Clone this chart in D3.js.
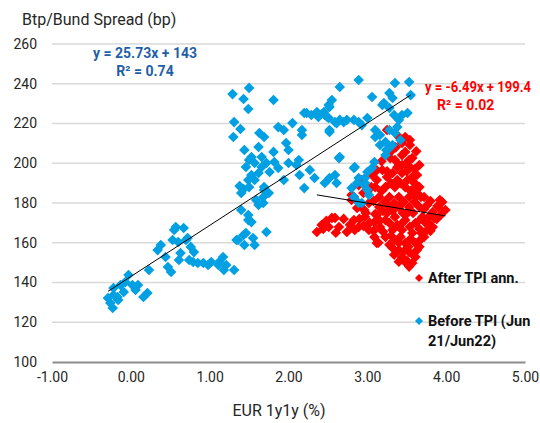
<!DOCTYPE html>
<html><head><meta charset="utf-8">
<script src="https://cdn.jsdelivr.net/npm/d3@7"></script>
<style>
html,body{margin:0;padding:0;background:#fff;}
svg{display:block;font-family:Roboto,"Noto Sans",sans-serif;}
</style></head>
<body><svg id="chart" width="540" height="423"></svg>
<script>
// ---- data ----
const xTicks = [-1, 0, 1, 2, 3, 4, 5];
const yTicks = [100, 120, 140, 160, 180, 200, 220, 240, 260];
const seriesNames = ["After TPI ann.", "Before TPI (Jun", "21/Jun22)"];
const blueX = [-0.23,-0.29,-0.22,-0.16,-0.09,-0.03,0.02,0.06,0.09,0.21,0.23,0.38,0.44,0.51,0.55,0.60,0.67,0.70,0.63,0.61,0.76,0.80,0.74,0.85,0.92,0.98,1.02,1.11,1.17,1.21,1.31,1.18,1.36,1.44,1.46,1.49,-0.22,-0.17,-0.07,0.16,0.47,0.53,0.57,0.72,0.79,1.12,1.34,1.43,1.55,1.57,1.53,1.72,1.62,1.68,1.49,-0.26,-0.13,0.34,
1.29,1.50,1.43,1.49,1.81,1.31,1.39,1.30,1.63,1.69,1.87,1.94,2.05,2.17,2.17,2.20,2.29,2.38,2.45,2.49,2.51,2.55,2.52,2.61,1.97,2.00,1.44,1.53,1.62,1.66,1.50,1.46,1.57,1.66,1.72,1.81,1.82,1.87,1.76,1.62,1.53,1.57,1.49,1.38,1.43,1.50,1.69,1.75,1.68,1.59,1.94,2.00,2.10,2.14,2.27,2.33,2.20,2.46,2.52,2.59,2.61,1.40,2.64,2.13,1.40,1.69,2.83,3.00,2.80,2.93,3.02,2.97,
2.89,2.65,3.06,3.35,3.53,3.55,3.28,3.32,3.21,3.28,3.34,3.44,3.51,3.40,2.52,2.46,2.51,2.59,2.65,2.74,2.83,2.89,3.00,2.93,2.52,3.10,3.16,3.10,3.23,3.28,3.16,3.32,3.38,3.42,2.65,2.84,3.09,3.06,2.97,2.96,3.00,2.89,2.87,2.83,2.36,2.23,2.70,3.28,3.19,3.24,3.23,3.35,2.89];
const blueY = [127.2,132.2,133.7,131.2,135.2,143.8,138.7,136.2,138.7,134.7,146.3,158.9,152.8,145.3,166.4,160.4,167.4,161.4,154.8,151.3,157.9,155.3,151.3,149.8,149.8,148.8,150.3,148.8,152.8,148.8,146.3,146.3,161.4,158.9,164.9,174.0,137.2,132.7,140.2,132.7,147.8,161.4,167.9,162.4,150.3,150.3,161.4,163.9,162.4,158.9,170.4,165.4,179.0,180.0,171.4,129.7,138.7,156.3,
234.8,237.9,232.3,227.3,231.8,220.7,217.2,213.2,215.2,213.2,218.2,216.7,220.2,216.7,214.2,225.3,224.3,223.3,225.8,223.3,229.3,231.8,216.7,220.2,210.2,206.7,206.7,203.1,208.2,203.1,201.6,198.1,200.1,198.1,200.1,205.7,200.6,197.6,195.6,195.1,194.1,191.6,191.6,188.5,187.0,188.0,188.0,185.0,183.0,181.5,191.6,200.1,199.1,194.1,196.6,192.6,187.5,190.1,192.6,194.1,190.1,176.5,202.6,201.6,185.0,186.5,197.6,195.6,187.5,180.0,184.0,190.1,
241.9,238.4,233.3,240.4,240.9,234.3,235.3,232.8,230.3,227.8,224.3,224.3,225.3,221.8,228.3,224.3,222.8,220.7,221.8,221.8,221.8,220.7,222.8,219.2,215.7,216.7,214.2,213.2,210.7,207.7,209.2,209.2,218.2,211.7,203.1,198.1,200.6,197.6,192.6,189.0,186.5,192.6,190.1,183.0,225.8,225.3,220.7,216.7,229.3,206.7,204.1,215.2,180.0];
const redX = [3.48,3.54,3.44,3.29,3.44,3.53,3.54,3.19,3.32,3.44,3.57,3.66,3.72,3.63,3.95,3.99,3.93,3.85,3.83,3.76,3.70,3.10,3.23,3.35,3.48,3.15,3.28,3.40,3.53,3.02,3.15,3.28,3.40,3.53,3.66,2.80,2.87,3.06,3.12,2.36,2.51,2.59,2.64,2.83,2.89,2.84,3.02,3.09,2.97,3.23,3.35,3.48,3.61,3.32,3.44,3.57,3.23,3.35,3.48,3.61,3.67,3.40,3.53,3.63,3.44,3.57,3.61,3.25,3.40,3.54,3.48,3.57,3.66,3.40,2.80,2.89,2.55,2.93,2.83,3.35,3.25,3.38,3.51,3.61,3.76,3.83,3.73,3.16,3.09,2.96,2.74,2.42,3.12,3.32,3.48,3.38,3.51,3.25,3.12,3.00,3.72,3.89,3.57,3.44,3.63,
2.95,3.05,3.18,3.30,3.42,3.55,3.60,3.68,3.08,3.22,3.34,3.46,3.60,3.72,3.80,2.98,3.10,3.20,3.32,3.45,3.58,3.68,3.78,3.90,2.90,3.03,3.16,3.28,3.42,3.54,3.66,3.78,2.78,2.95,3.08,3.20,3.30,3.42,3.55,3.68,2.70,2.48,2.44,2.60,3.14,3.28,3.40,3.52,3.66,3.34,3.47,3.58,3.50,3.40,3.53,3.25,3.38,3.50,3.30,3.36,3.60,3.18,3.48,3.12,3.62,3.88,3.80,3.92];
const redY = [213.2,209.2,210.2,202.6,204.1,201.6,198.1,196.6,195.1,195.1,193.1,188.0,183.0,185.0,180.5,176.5,174.0,172.5,167.9,166.4,173.0,188.0,188.0,188.0,188.0,183.0,183.0,183.0,183.0,180.0,178.0,178.0,178.0,178.0,178.0,181.5,177.5,194.1,191.6,165.4,167.9,172.5,167.9,171.4,167.9,166.4,166.4,162.9,173.0,171.4,173.0,171.4,169.9,166.4,166.4,164.9,162.9,161.4,159.9,159.9,161.4,156.3,155.3,156.3,152.8,149.8,152.8,216.7,213.2,211.7,205.7,202.6,199.1,199.1,184.0,189.0,172.5,191.6,183.0,201.6,193.1,191.6,191.6,183.0,179.0,175.5,170.4,167.9,170.4,176.5,165.4,168.9,159.9,157.4,150.3,168.9,175.0,175.0,174.0,185.5,162.9,178.5,186.5,199.1,194.1,
185.0,188.0,186.0,190.0,190.0,186.0,190.0,183.0,181.0,180.5,180.0,180.5,180.5,177.0,181.0,175.0,174.5,176.0,176.0,175.0,175.0,172.0,173.0,178.0,172.0,170.0,171.0,170.0,169.0,168.0,167.0,170.0,169.0,168.5,166.0,165.5,163.5,163.0,162.0,165.0,172.0,171.0,167.0,165.0,160.0,159.0,160.0,158.0,158.0,154.0,156.0,154.0,151.0,150.5,148.0,196.0,198.0,196.0,206.0,208.0,197.0,201.0,199.5,196.5,206.0,172.0,166.0,181.5];
const blueFit = {slope: 25.73, intercept: 143, r2: 0.74};
const redFit = {slope: -6.49, intercept: 199.4, r2: 0.02};

// ---- layout ----
const svg = d3.select("#chart");
const x = d3.scaleLinear().domain([-1, 5]).range([52, 525]);
const y = d3.scaleLinear().domain([100, 260]).range([362, 44]);
const BLUE = "#00a0e3", RED = "#ff0000", TXT = "#262626";

// gridlines
svg.append("g").selectAll("line").data(yTicks.filter(d => d > 100)).join("line")
  .attr("x1", x(-1)).attr("x2", x(5)).attr("y1", d => y(d)).attr("y2", d => y(d))
  .attr("stroke", "#d9d9d9").attr("stroke-width", 1.5);

// y axis labels
const yAxis = d3.axisLeft(y).tickValues(yTicks).tickSize(0).tickPadding(15).tickFormat(d3.format("d"));
const gy = svg.append("g").attr("transform", `translate(${x(-1)},0)`).call(yAxis);
gy.select(".domain").remove();
gy.selectAll("text").attr("font-size", 14).attr("fill", TXT).attr("font-family", "Roboto");

// x axis
const fmt = d3.format(".2f");
const xAxis = d3.axisBottom(x).tickValues(xTicks).tickSize(0).tickPadding(10)
  .tickFormat(d => fmt(d).replace("\u2212", "-"));
const gx = svg.append("g").attr("transform", `translate(0,${y(100)})`).call(xAxis);
gx.select(".domain").attr("stroke", "#8c8c8c").attr("stroke-width", 2.2);
gx.selectAll("text").attr("font-size", 14).attr("fill", TXT).attr("font-family", "Roboto");

// titles
svg.append("text").attr("x", 22).attr("y", 25).attr("font-size", 16).attr("fill", TXT).text("Btp/Bund Spread (bp)");
svg.append("text").attr("x", 279).attr("y", 416).attr("text-anchor", "middle").attr("font-size", 16).attr("fill", TXT).text("EUR 1y1y (%)");

// points
const diamond = "M0,-5.3L5.3,0L0,5.3L-5.3,0Z";
svg.append("g").selectAll("path").data(redX.map((v, i) => [v, redY[i]])).join("path")
  .attr("d", diamond).attr("transform", d => `translate(${x(d[0])},${y(d[1])})`).attr("fill", RED);
svg.append("g").selectAll("path").data(blueX.map((v, i) => [v, blueY[i]])).join("path")
  .attr("d", diamond).attr("transform", d => `translate(${x(d[0])},${y(d[1])})`).attr("fill", BLUE);

// trend lines
function trend(xs, fit) {
  const [a, b] = d3.extent(xs);
  svg.append("line").attr("x1", x(a)).attr("x2", x(b))
    .attr("y1", y(fit.slope * a + fit.intercept)).attr("y2", y(fit.slope * b + fit.intercept))
    .attr("stroke", "#000").attr("stroke-width", 1);
}
trend(blueX, blueFit);
trend(redX, redFit);

// equations
const eq = svg.append("g").attr("font-weight", "bold").attr("font-size", 14);
eq.append("text").attr("x", 145).attr("y", 58).attr("text-anchor", "middle").attr("fill", "#1f5fa8")
  .text(`y = ${blueFit.slope}x + ${blueFit.intercept}`);
eq.append("text").attr("x", 145).attr("y", 76).attr("text-anchor", "middle").attr("fill", "#1f5fa8")
  .text(`R² = ${blueFit.r2}`);
eq.append("text").attr("x", 425).attr("y", 92).attr("fill", RED)
  .attr("textLength", 106).attr("lengthAdjust", "spacingAndGlyphs")
  .text(`y = ${redFit.slope}x + ${redFit.intercept}`);
eq.append("text").attr("x", 437).attr("y", 110).attr("fill", RED)
  .text(`R² = ${redFit.r2.toFixed(2)}`);

// legend
const lg = svg.append("g").attr("font-weight", "bold").attr("font-size", 14.5).attr("fill", "#111");
lg.append("path").attr("d", "M0,-4L4,0L0,4L-4,0Z").attr("transform", "translate(419,278)").attr("fill", RED);
lg.append("text").attr("x", 428).attr("y", 283).text(seriesNames[0]);
lg.append("path").attr("d", "M0,-4L4,0L0,4L-4,0Z").attr("transform", "translate(419,321)").attr("fill", BLUE);
lg.append("text").attr("x", 428).attr("y", 326).text(seriesNames[1]);
lg.append("text").attr("x", 428).attr("y", 346).text(seriesNames[2]);
</script></body></html>
